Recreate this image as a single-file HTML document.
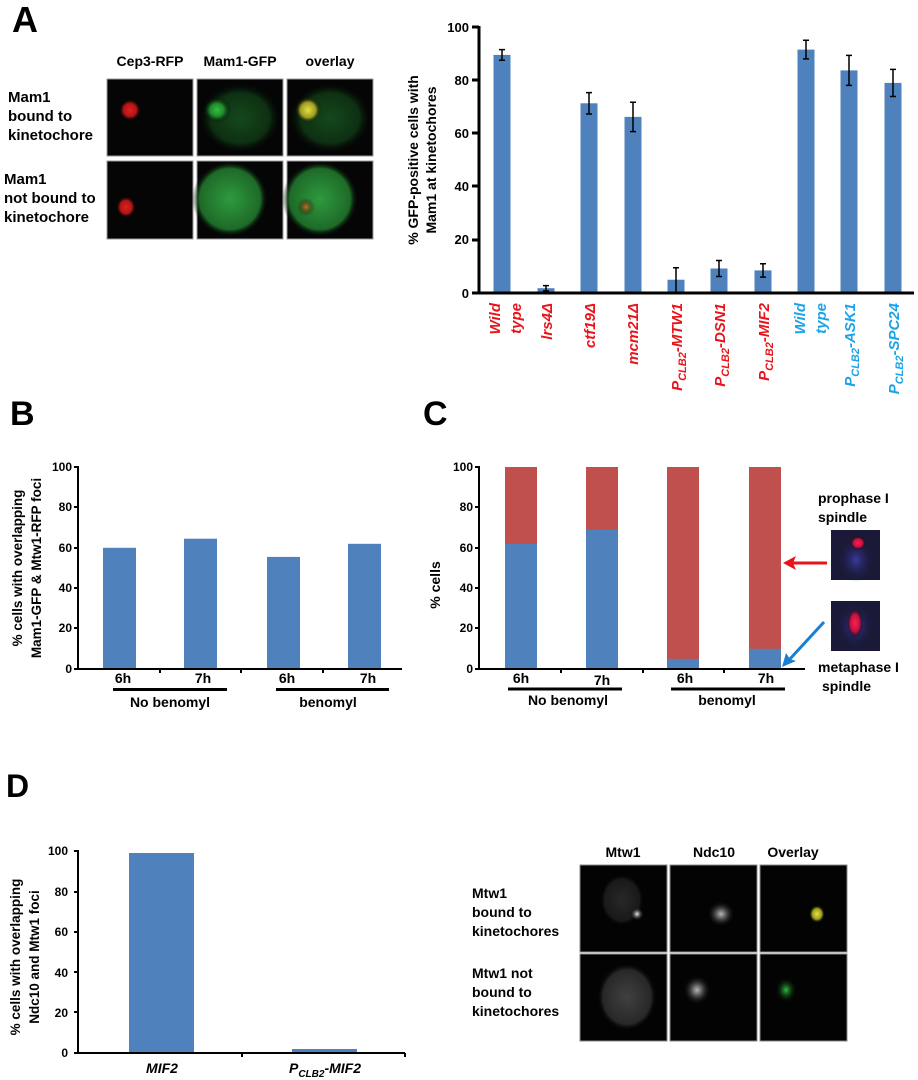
<!DOCTYPE html>
<html><head><meta charset="utf-8"><style>
html,body{margin:0;padding:0;background:#fff;}
svg{display:block;font-family:"Liberation Sans",sans-serif;font-weight:bold;}
</style></head><body>
<svg width="918" height="1080" viewBox="0 0 918 1080" xmlns="http://www.w3.org/2000/svg">
<defs>
<radialGradient id="r1"><stop offset="0" stop-color="#e02020"/><stop offset="0.6" stop-color="#b01515"/><stop offset="1" stop-color="#000" stop-opacity="0"/></radialGradient>
<radialGradient id="g1"><stop offset="0" stop-color="#30c040"/><stop offset="0.5" stop-color="#1f8a2a"/><stop offset="1" stop-color="#000" stop-opacity="0"/></radialGradient>
<radialGradient id="gh"><stop offset="0" stop-color="#14481c"/><stop offset="0.7" stop-color="#0e3012"/><stop offset="1" stop-color="#000" stop-opacity="0"/></radialGradient>
<radialGradient id="gb"><stop offset="0" stop-color="#2e9a3e"/><stop offset="0.8" stop-color="#1e6a28"/><stop offset="1" stop-color="#000" stop-opacity="0"/></radialGradient>
<radialGradient id="y1"><stop offset="0" stop-color="#e8e040"/><stop offset="0.6" stop-color="#9a9a20"/><stop offset="1" stop-color="#000" stop-opacity="0"/></radialGradient>
<radialGradient id="o1"><stop offset="0" stop-color="#d07020"/><stop offset="1" stop-color="#000" stop-opacity="0"/></radialGradient>
<radialGradient id="pb"><stop offset="0" stop-color="#3a3aa0"/><stop offset="1" stop-color="#1a1a40" stop-opacity="0"/></radialGradient>
<radialGradient id="pr"><stop offset="0" stop-color="#ff2050"/><stop offset="0.6" stop-color="#c01040"/><stop offset="1" stop-color="#000" stop-opacity="0"/></radialGradient>
<radialGradient id="w1"><stop offset="0" stop-color="#e0e0e0"/><stop offset="0.4" stop-color="#606060"/><stop offset="1" stop-color="#000" stop-opacity="0"/></radialGradient>
<radialGradient id="wd"><stop offset="0" stop-color="#404040"/><stop offset="0.8" stop-color="#282828"/><stop offset="1" stop-color="#000" stop-opacity="0"/></radialGradient>
<radialGradient id="gD"><stop offset="0" stop-color="#30c040"/><stop offset="1" stop-color="#000" stop-opacity="0"/></radialGradient>
</defs>

<!-- Panel A -->
<text x="12" y="32" font-size="36">A</text>
<g font-size="14" text-anchor="middle">
<text x="150" y="66">Cep3-RFP</text><text x="240" y="66">Mam1-GFP</text><text x="330" y="66">overlay</text>
</g>
<g font-size="15">
<text x="8" y="102">Mam1</text><text x="8" y="121">bound to</text><text x="8" y="140">kinetochore</text>
<text x="4" y="184">Mam1</text><text x="4" y="203">not bound to</text><text x="4" y="222">kinetochore</text>
</g>
<g stroke="#999" stroke-width="1">
<rect x="107" y="79" width="86" height="77" fill="#050505"/>
<rect x="197" y="79" width="86" height="77" fill="#050505"/>
<rect x="287" y="79" width="86" height="77" fill="#050505"/>
<rect x="107" y="161" width="86" height="78" fill="#050505"/>
<rect x="197" y="161" width="86" height="78" fill="#050505"/>
<rect x="287" y="161" width="86" height="78" fill="#050505"/>
</g>
<ellipse cx="130" cy="110" rx="11" ry="11" fill="url(#r1)"/>
<ellipse cx="240" cy="118" rx="42" ry="36" fill="url(#gh)"/>
<ellipse cx="217" cy="110" rx="14" ry="13" fill="url(#g1)"/>
<ellipse cx="330" cy="118" rx="42" ry="36" fill="url(#gh)"/>
<ellipse cx="308" cy="110" rx="13" ry="13" fill="url(#y1)"/>
<ellipse cx="126" cy="207" rx="10" ry="11" fill="url(#r1)"/>
<ellipse cx="230" cy="199" rx="38" ry="38" fill="url(#gb)"/>
<ellipse cx="320" cy="199" rx="38" ry="38" fill="url(#gb)"/>
<ellipse cx="306" cy="207" rx="9" ry="9" fill="url(#o1)"/>

<!-- A chart -->
<g font-size="13" text-anchor="end">
<text x="469" y="32">100</text><text x="469" y="85">80</text><text x="469" y="138">60</text><text x="469" y="191">40</text><text x="469" y="244">20</text><text x="469" y="298">0</text>
</g>
<g transform="translate(418,160) rotate(-90)" font-size="14" text-anchor="middle">
<text x="0" y="0">% GFP-positive cells with</text><text x="0" y="18">Mam1 at kinetochores</text>
</g>
<g fill="#4f81bd">
<rect x="493.5" y="54.9" width="17" height="238.1"/>
<rect x="537.5" y="288.2" width="17" height="4.8"/>
<rect x="580.5" y="103.3" width="17" height="189.7"/>
<rect x="624.5" y="116.9" width="17" height="176.1"/>
<rect x="667.5" y="279.7" width="17" height="13.3"/>
<rect x="710.5" y="268.5" width="17" height="24.5"/>
<rect x="754.5" y="270.4" width="17" height="22.6"/>
<rect x="797.5" y="49.6" width="17" height="243.4"/>
<rect x="840.5" y="70.4" width="17" height="222.6"/>
<rect x="884.5" y="82.9" width="17" height="210.1"/>
</g>
<g stroke="#000" stroke-width="1.5" fill="none">
<path d="M502 49.6V60.2M499 49.6h6M499 60.2h6"/>
<path d="M546 285.6V290.9M543 285.6h6M543 290.9h6"/>
<path d="M589 92.6V114M586 92.6h6M586 114h6"/>
<path d="M633 102.3V131.6M630 102.3h6M630 131.6h6"/>
<path d="M676 267.7V293M673 267.7h6"/>
<path d="M719 260.5V276.5M716 260.5h6M716 276.5h6"/>
<path d="M763 263.7V277.1M760 263.7h6M760 277.1h6"/>
<path d="M806 40.3V58.9M803 40.3h6M803 58.9h6"/>
<path d="M849 55.4V85.4M846 55.4h6M846 85.4h6"/>
<path d="M893 69.4V96.5M890 69.4h6M890 96.5h6"/>
</g>
<path d="M479 26V293M472 27h7M472 80h7M472 133h7M472 186h7M472 240h7M472 293H914" stroke="#000" stroke-width="3" fill="none"/>
<g font-size="15" font-style="italic" text-anchor="end" fill="#e8141b">
<text transform="translate(500,303) rotate(-90)">Wild</text>
<text transform="translate(521,303) rotate(-90)">type</text>
<text transform="translate(552,303) rotate(-90)">lrs4Δ</text>
<text transform="translate(595,303) rotate(-90)">ctf19Δ</text>
<text transform="translate(638,303) rotate(-90)">mcm21Δ</text>
<text transform="translate(682,303) rotate(-90)">P<tspan font-size="11" dy="4">CLB2</tspan><tspan dy="-4">-MTW1</tspan></text>
<text transform="translate(725,303) rotate(-90)">P<tspan font-size="11" dy="4">CLB2</tspan><tspan dy="-4">-DSN1</tspan></text>
<text transform="translate(769,303) rotate(-90)">P<tspan font-size="11" dy="4">CLB2</tspan><tspan dy="-4">-MIF2</tspan></text>
</g>
<g font-size="15" font-style="italic" text-anchor="end" fill="#1aa3e8">
<text transform="translate(805,303) rotate(-90)">Wild</text>
<text transform="translate(826,303) rotate(-90)">type</text>
<text transform="translate(855,303) rotate(-90)">P<tspan font-size="11" dy="4">CLB2</tspan><tspan dy="-4">-ASK1</tspan></text>
<text transform="translate(899,303) rotate(-90)">P<tspan font-size="11" dy="4">CLB2</tspan><tspan dy="-4">-SPC24</tspan></text>
</g>

<!-- Panel B -->
<text x="10" y="425" font-size="34">B</text>
<g font-size="12" text-anchor="end">
<text x="72" y="471">100</text><text x="72" y="511">80</text><text x="72" y="552">60</text><text x="72" y="592">40</text><text x="72" y="632">20</text><text x="72" y="673">0</text>
</g>
<g transform="translate(22,568) rotate(-90)" font-size="13.5" text-anchor="middle">
<text x="0" y="0">% cells with overlapping</text><text x="0" y="19">Mam1-GFP &amp;  Mtw1-RFP foci</text>
</g>
<g fill="#4f81bd">
<rect x="103" y="547.8" width="33" height="121.2"/>
<rect x="184" y="538.7" width="33" height="130.3"/>
<rect x="267" y="556.9" width="33" height="112.1"/>
<rect x="348" y="543.8" width="33" height="125.2"/>
</g>
<path d="M78 466V669M74 467h4M74 507h4M74 548h4M74 588h4M74 628h4M74 669H402M160 669v4M241 669v4M323 669v4" stroke="#000" stroke-width="2" fill="none"/>
<g font-size="14" text-anchor="middle">
<text x="123" y="683">6h</text><text x="203" y="683">7h</text><text x="287" y="683">6h</text><text x="368" y="683">7h</text>
<text x="170" y="707">No benomyl</text><text x="328" y="707">benomyl</text>
</g>
<path d="M113 689.5H227M276 689.5H389" stroke="#000" stroke-width="3"/>

<!-- Panel C -->
<text x="423" y="425" font-size="34">C</text>
<g font-size="12" text-anchor="end">
<text x="473" y="471">100</text><text x="473" y="511">80</text><text x="473" y="552">60</text><text x="473" y="592">40</text><text x="473" y="632">20</text><text x="473" y="673">0</text>
</g>
<text transform="translate(440,585) rotate(-90)" font-size="14" text-anchor="middle">% cells</text>
<g fill="#c0504d">
<rect x="505" y="467" width="32" height="202"/><rect x="586" y="467" width="32" height="202"/>
<rect x="667" y="467" width="32" height="202"/><rect x="749" y="467" width="32" height="202"/>
</g>
<g fill="#4f81bd">
<rect x="505" y="543.8" width="32" height="125.2"/>
<rect x="586" y="529.6" width="32" height="139.4"/>
<rect x="667" y="658.9" width="32" height="10.1"/>
<rect x="749" y="648.8" width="32" height="20.2"/>
</g>
<path d="M479 466V669M475 467h4M475 507h4M475 548h4M475 588h4M475 628h4M475 669H805M561 669v4M643 669v4M724 669v4" stroke="#000" stroke-width="2" fill="none"/>
<g font-size="14" text-anchor="middle">
<text x="521" y="683">6h</text><text x="602" y="685">7h</text><text x="685" y="683">6h</text><text x="766" y="683">7h</text>
<text x="568" y="705">No benomyl</text><text x="727" y="705">benomyl</text>
</g>
<path d="M508 689H622M671 689H785" stroke="#000" stroke-width="3"/>
<g font-size="14">
<text x="818" y="503">prophase I</text><text x="818" y="522">spindle</text>
<text x="818" y="672">metaphase I</text><text x="822" y="691">spindle</text>
</g>
<rect x="831" y="530" width="49" height="50" fill="#1a1a38"/>
<ellipse cx="856" cy="560" rx="18" ry="22" fill="url(#pb)"/>
<ellipse cx="858" cy="543" rx="8" ry="7" fill="url(#pr)"/>
<rect x="831" y="601" width="49" height="50" fill="#1a1a38"/>
<ellipse cx="855" cy="626" rx="18" ry="22" fill="url(#pb)"/>
<ellipse cx="855" cy="623" rx="8" ry="15" fill="url(#pr)"/>
<path d="M827 563H792" stroke="#e8141b" stroke-width="3"/>
<path d="M783 563L796 556L793 563L796 570Z" fill="#e8141b"/>
<path d="M824 622L789 660" stroke="#1a7fd0" stroke-width="3"/>
<path d="M782 667L786 653L790 659L796 661Z" fill="#1a7fd0"/>

<!-- Panel D -->
<text x="6" y="797" font-size="32" font-family="'Liberation Sans Narrow','Liberation Sans',sans-serif">D</text>
<g font-size="12" text-anchor="end">
<text x="68" y="855">100</text><text x="68" y="896">80</text><text x="68" y="936">60</text><text x="68" y="977">40</text><text x="68" y="1017">20</text><text x="68" y="1057">0</text>
</g>
<g transform="translate(20,957) rotate(-90)" font-size="13.5" text-anchor="middle">
<text x="0" y="0">% cells with overlapping</text><text x="0" y="19">Ndc10 and Mtw1 foci</text>
</g>
<rect x="129" y="853" width="65" height="200" fill="#4f81bd"/>
<rect x="292" y="1049" width="65" height="4" fill="#4f81bd"/>
<path d="M78 850V1053M74 851h4M74 892h4M74 932h4M74 972h4M74 1012h4M74 1053H405M242 1053v4M405 1053v4" stroke="#000" stroke-width="2" fill="none"/>
<g font-size="14" font-style="italic" text-anchor="middle">
<text x="162" y="1073">MIF2</text>
<text x="325" y="1073">P<tspan font-size="10" dy="4">CLB2</tspan><tspan dy="-4">-MIF2</tspan></text>
</g>
<g font-family="'Liberation Sans Narrow','Liberation Sans',sans-serif" font-size="14">
<g text-anchor="middle"><text x="623" y="857">Mtw1</text><text x="714" y="857">Ndc10</text><text x="793" y="857">Overlay</text></g>
<text x="472" y="898">Mtw1</text><text x="472" y="917">bound to</text><text x="472" y="936">kinetochores</text>
<text x="472" y="978">Mtw1 not</text><text x="472" y="997">bound to</text><text x="472" y="1016">kinetochores</text>
</g>
<g stroke="#888" stroke-width="1" fill="#030303">
<rect x="580" y="865" width="87" height="87"/><rect x="670" y="865" width="87" height="87"/><rect x="760" y="865" width="87" height="87"/>
<rect x="580" y="954" width="87" height="87"/><rect x="670" y="954" width="87" height="87"/><rect x="760" y="954" width="87" height="87"/>
</g>
<ellipse cx="622" cy="900" rx="22" ry="26" fill="url(#wd)" opacity="0.6"/>
<ellipse cx="637" cy="914" rx="7" ry="7" fill="url(#w1)"/>
<ellipse cx="721" cy="914" rx="14" ry="13" fill="url(#w1)" opacity="0.8"/>
<ellipse cx="817" cy="914" rx="8" ry="9" fill="url(#y1)"/>
<ellipse cx="627" cy="997" rx="30" ry="34" fill="url(#wd)"/>
<ellipse cx="697" cy="990" rx="14" ry="15" fill="url(#w1)" opacity="0.8"/>
<ellipse cx="786" cy="990" rx="11" ry="13" fill="url(#gD)"/>
</svg>
</body></html>
